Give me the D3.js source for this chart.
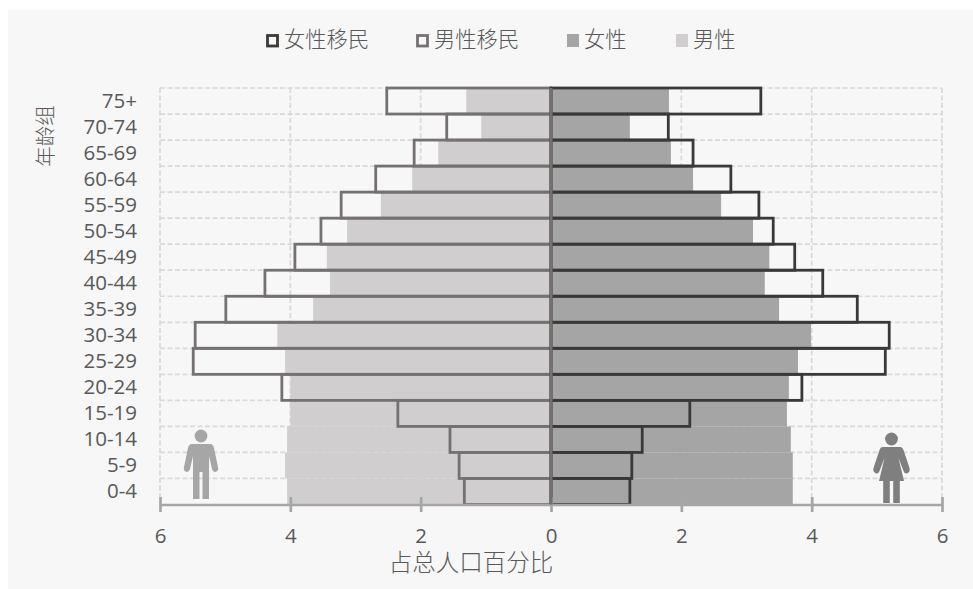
<!DOCTYPE html>
<html>

<head>
  <meta charset="utf-8">
  <script src="https://cdnjs.cloudflare.com/ajax/libs/d3/7.8.5/d3.min.js"></script>
  <style>
    body,
    html {
      margin: 0;
      padding: 0;
      background: white;
      overflow: hidden;
    }

    text {
      font-family: 'Open Sans', 'Noto Sans CJK SC', sans-serif;
      fill: #595959;
    }

    .cjk {
      font-family: 'Noto Sans CJK SC', sans-serif;
      font-weight: 300;
    }
  </style>
</head>

<body>
  <svg id="chart" width="973" height="589"></svg>

  <script>
    const ageGroups = ["75+", "70-74", "65-69", "60-64", "55-59", "50-54", "45-49", "40-44",
      "35-39", "30-34", "25-29", "20-24", "15-19", "10-14", "5-9", "0-4"];

    const male = [1.30, 1.07, 1.73, 2.13, 2.61, 3.13, 3.44, 3.39, 3.65, 4.20, 4.08, 4.00, 4.00, 4.05, 4.08, 4.05];
    const female = [1.81, 1.21, 1.84, 2.18, 2.61, 3.10, 3.35, 3.28, 3.50, 3.99, 3.79, 3.65, 3.62, 3.68, 3.71, 3.71];
    const maleMigrant = [2.52, 1.60, 2.10, 2.69, 3.22, 3.53, 3.93, 4.39, 4.99, 5.46, 5.49, 4.13, 2.35, 1.55, 1.41, 1.33];
    const femaleMigrant = [3.22, 1.80, 2.18, 2.76, 3.19, 3.41, 3.74, 4.17, 4.70, 5.19, 5.13, 3.85, 2.13, 1.40, 1.24, 1.21];

    const xTicks = [-6, -4, -2, 0, 2, 4, 6];

    const colors = {
      bg: "#f7f7f7",
      grid: "#d9d9d9",
      axis: "#a6a6a6",
      male: "#d0cece",
      female: "#a5a5a5",
      maleMigrant: "#757171",
      femaleMigrant: "#3b3838",
      manIcon: "#a6a6a6",
      womanIcon: "#7f7f7f"
    };

    const svg = d3.select("#chart");

    // chart area sits on a pale panel, white strip round the top and left
    svg.append("rect")
      .attr("x", 8).attr("y", 10)
      .attr("width", 965).attr("height", 579)
      .attr("fill", colors.bg);

    const x = d3.scaleLinear().domain([-6, 6]).range([160, 942]);
    const y = d3.scaleBand().domain(ageGroups).range([88, 504.5]).paddingInner(0).paddingOuter(0);

    // gridlines
    const gridG = svg.append("g")
      .attr("fill", "none")
      .attr("stroke", colors.grid)
      .attr("stroke-width", 1.7)
      .attr("stroke-dasharray", "5 2.5");

    gridG.selectAll(".v")
      .data(xTicks)
      .join("line")
      .attr("x1", d => x(d)).attr("x2", d => x(d))
      .attr("y1", y.range()[0]).attr("y2", y.range()[1]);

    gridG.selectAll(".h")
      .data(ageGroups)
      .join("line")
      .attr("x1", x.range()[0]).attr("x2", x.range()[1])
      .attr("y1", d => y(d)).attr("y2", d => y(d));

    // solid population bars
    function solidBars(values, sign, fill) {
      svg.append("g")
        .selectAll("rect")
        .data(values)
        .join("rect")
        .attr("x", d => sign < 0 ? x(-d) : x(0))
        .attr("y", (d, i) => y(ageGroups[i]))
        .attr("width", d => Math.abs(x(d) - x(0)))
        .attr("height", y.bandwidth())
        .attr("fill", fill);
    }

    solidBars(male, -1, colors.male);
    solidBars(female, 1, colors.female);

    // migrant outlines on top
    function outlineBars(values, sign, stroke) {
      svg.append("g")
        .selectAll("rect")
        .data(values)
        .join("rect")
        .attr("x", d => sign < 0 ? x(-d) : x(0))
        .attr("y", (d, i) => y(ageGroups[i]))
        .attr("width", d => Math.abs(x(d) - x(0)))
        .attr("height", y.bandwidth())
        .attr("fill", "none")
        .attr("stroke", stroke)
        .attr("stroke-width", 2.8);
    }

    outlineBars(maleMigrant, -1, colors.maleMigrant);
    outlineBars(femaleMigrant, 1, colors.femaleMigrant);

    // x axis, both sides count up from the middle
    const xAxis = svg.append("g")
      .attr("transform", `translate(0, ${y.range()[1]})`)
      .call(d3.axisBottom(x).tickValues(xTicks).tickFormat(d => Math.abs(d)).tickSize(0).tickPadding(24));

    xAxis.select(".domain").attr("stroke", colors.axis).attr("stroke-width", 2.7);
    xAxis.selectAll(".tick text").attr("font-size", 20.5).style("font-family", "'Open Sans'");
    xAxis.selectAll(".tick line")
      .attr("y1", -7.5).attr("y2", 7.5)
      .attr("stroke", colors.axis).attr("stroke-width", 2.7);

    // y axis, labels only
    const yAxis = svg.append("g")
      .attr("transform", `translate(${x.range()[0]}, 0)`)
      .call(d3.axisLeft(y).tickSize(0).tickPadding(23));

    yAxis.select(".domain").remove();
    yAxis.selectAll(".tick text").attr("font-size", 20.5).style("font-family", "'Open Sans'");

    // middle line
    svg.append("line")
      .attr("x1", x(0)).attr("x2", x(0))
      .attr("y1", y.range()[0]).attr("y2", y.range()[1])
      .attr("stroke", colors.maleMigrant).attr("stroke-width", 3);

    // axis titles
    svg.append("text")
      .attr("class", "cjk")
      .attr("x", 471).attr("y", 571)
      .attr("text-anchor", "middle")
      .attr("font-size", 23.5)
      .text("占总人口百分比");

    svg.append("text")
      .attr("class", "cjk")
      .attr("transform", "translate(53, 136) rotate(-90)")
      .attr("text-anchor", "middle")
      .attr("font-size", 20.5)
      .text("年龄组");

    // legend
    const legendItems = [
      { name: "女性移民", x: 266, stroke: colors.femaleMigrant },
      { name: "男性移民", x: 416, stroke: colors.maleMigrant },
      { name: "女性", x: 567, fill: colors.female },
      { name: "男性", x: 676, fill: colors.male }
    ];

    const legend = svg.append("g")
      .selectAll("g")
      .data(legendItems)
      .join("g")
      .attr("transform", d => `translate(${d.x}, 34)`);

    legend.append("rect")
      .attr("x", d => d.stroke ? 1.5 : 0)
      .attr("y", d => d.stroke ? 1.5 : 0)
      .attr("width", d => d.stroke ? 10 : 12)
      .attr("height", d => d.stroke ? 10.5 : 13)
      .attr("fill", d => d.fill || "none")
      .attr("stroke", d => d.stroke || "none")
      .attr("stroke-width", 2.8);

    legend.append("text")
      .attr("class", "cjk")
      .attr("x", d => d.stroke ? 18 : 17).attr("y", 13)
      .attr("font-size", 21.3)
      .text(d => d.name);

    // man / woman pictograms
    function person(cx, top, isFemale) {
      const g = svg.append("g")
        .attr("transform", `translate(${cx}, ${top})`)
        .attr("fill", isFemale ? colors.womanIcon : colors.manIcon);
      g.append("circle").attr("cx", 0).attr("cy", 6).attr("r", 6.4);
      if (isFemale) {
        g.append("path").attr("d", "M-9 14 Q-11 14 -12 17 L-18 35 Q-19 39 -15.5 40.5 Q-13 41 -12 38 L-7 25 L-12.5 48 L-8.3 48 L-8.3 70 L-1.7 70 L-1.7 48 L1.7 48 L1.7 70 L8.3 70 L8.3 48 L12.5 48 L7 25 L12 38 Q13 41 15.5 40.5 Q19 39 18 35 L12 17 Q11 14 9 14 Z");
      } else {
        g.append("path").attr("d", "M-9 14 Q-12 14 -13 18 L-17 37 Q-18 41 -14.5 42 Q-12 42.5 -11 39 L-8 26 L-8 69 L-1.5 69 L-1.5 42 L1.5 42 L1.5 69 L8 69 L8 26 L11 39 Q12 42.5 14.5 42 Q18 41 17 37 L13 18 Q12 14 9 14 Z");
      }
    }

    person(201, 430, false);
    person(891.5, 433, true);
  </script>

</body>

</html>
